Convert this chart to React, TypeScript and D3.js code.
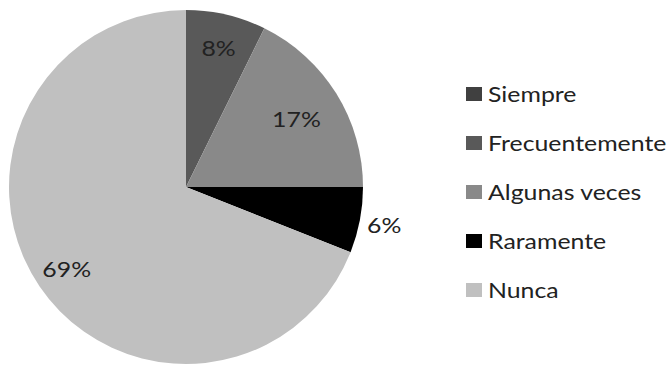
import React from "react";
import * as d3 from "d3";

const categories = ["Siempre", "Frecuentemente", "Algunas veces", "Raramente", "Nunca"];
const values = [0, 7.3, 17.7, 6, 69];
const labels = ["", "8%", "17%", "6%", "69%"];
const colors = ["#404040", "#595959", "#898989", "#000000", "#c0c0c0"];

export default function App() {
  const W = 668, H = 370;
  const cx = 186, cy = 187, r = 177;
  const pie = d3.pie<number>().sort(null).value((d) => d)(values);
  const arc = d3.arc<d3.PieArcDatum<number>>().innerRadius(0).outerRadius(r);
  const labelRadius = [0, 0.81, 0.735, 1.14, 0.815];
  const legendY = d3.scalePoint<string>().domain(categories).range([94, 290]);
  const font = "Lato, 'Open Sans', sans-serif";
  const sx = 1.13;
  return (
    <svg width={W} height={H} style={{ position: "absolute", left: 0, top: 0 }}>
      <rect width={W} height={H} fill="#fff" />
      <g transform={`translate(${cx},${cy})`}>
        {pie.map((p, i) =>
          p.endAngle > p.startAngle ? <path key={i} d={arc(p) || ""} fill={colors[i]} /> : null
        )}
        {pie.map((p, i) => {
          if (!labels[i]) return null;
          const a = (p.startAngle + p.endAngle) / 2;
          const rr = r * labelRadius[i];
          return (
            <text key={"l" + i}
              transform={`translate(${Math.sin(a) * rr},${-Math.cos(a) * rr}) scale(${sx},1)`}
              textAnchor="middle" dominantBaseline="central" fontFamily={font} fontSize={22} fill="#222">
              {labels[i]}
            </text>
          );
        })}
      </g>
      {categories.map((c, i) => (
        <g key={c} transform={`translate(466,${legendY(c)})`}>
          <rect x={0} y={-7} width={16} height={14} fill={colors[i]} />
          <text transform={`translate(22,0) scale(${sx},1)`} y={0} dominantBaseline="central"
            fontFamily={font} fontSize={22} fill="#222">
            {c}
          </text>
        </g>
      ))}
    </svg>
  );
}
